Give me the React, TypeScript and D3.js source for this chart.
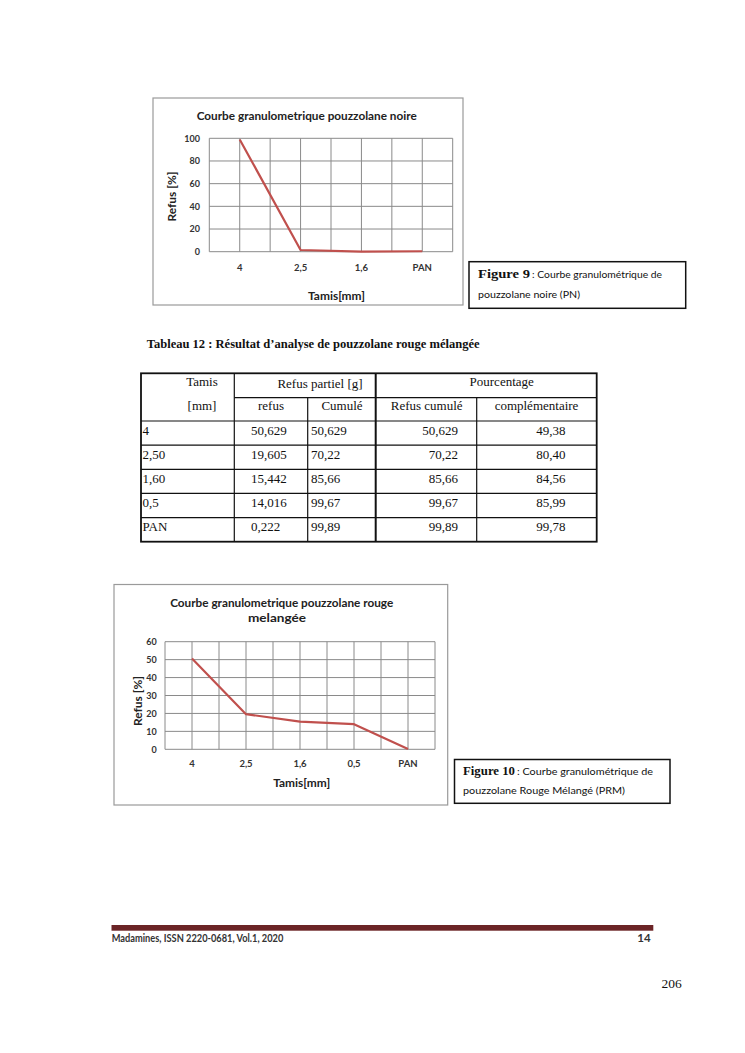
import React from "react";
import * as d3 from "d3";

// ---------- DATA ----------
const noireCategories = ["4", "2,5", "1,6", "PAN"];
const noireValues = [99, 1.5, 0.1, 0.4];
const noireYTicks = [0, 20, 40, 60, 80, 100];

const rougeCategories = ["4", "2,5", "1,6", "0,5", "PAN"];
const rougeValues = [50.629, 19.605, 15.442, 14.016, 0.222];
const rougeYTicks = [0, 10, 20, 30, 40, 50, 60];

const tableTamis = ["4", "2,50", "1,60", "0,5", "PAN"];
const tableRefus = ["50,629", "19,605", "15,442", "14,016", "0,222"];
const tableCumule = ["50,629", "70,22", "85,66", "99,67", "99,89"];
const tableRefusCumule = ["50,629", "70,22", "85,66", "99,67", "99,89"];
const tableComplementaire = ["49,38", "80,40", "84,56", "85,99", "99,78"];

const SANS = "Lato, 'Open Sans', sans-serif";
const SERIF = "'Liberation Serif', 'DejaVu Serif', serif";
const LINE = "#c0504d";
const GRID = "#8a8a8a";

type ChartProps = {
  frame: [number, number, number, number];
  plot: [number, number, number, number];
  cats: string[];
  vals: number[];
  ticks: number[];
  yMax: number;
  titleLines: { text: string; x: number; y: number; len: number }[];
  yLabelRight: number;
  xLabelY: number;
  xTitle: { x: number; y: number };
  yTitle: { x: number; y: number };
};

function LineChart(p: ChartProps) {
  const [fx0, fy0, fx1, fy1] = p.frame;
  const [px0, py0, px1, py1] = p.plot;
  const x = d3.scaleBand<string>().domain(p.cats).range([px0, px1]).padding(0);
  const y = d3.scaleLinear().domain([0, p.yMax]).range([py1, py0]);
  const bw = x.bandwidth();
  const vLines: number[] = [];
  p.cats.forEach((c) => {
    vLines.push(x(c)!);
    vLines.push(x(c)! + bw / 2);
  });
  vLines.push(px1);
  const line = d3
    .line<number>()
    .x((_, i) => x(p.cats[i])! + bw / 2)
    .y((d) => y(d));
  return (
    <g>
      <rect x={fx0} y={fy0} width={fx1 - fx0} height={fy1 - fy0} fill="#fff" stroke="#9a9a9a" strokeWidth={1.2} />
      {p.titleLines.map((t, i) => (
        <text key={i} x={t.x} y={t.y} textAnchor="middle" fontFamily={SANS} fontWeight={700} fontSize={11}
          fill="#222" textLength={t.len} lengthAdjust="spacingAndGlyphs">{t.text}</text>
      ))}
      {p.ticks.map((t) => (
        <line key={"h" + t} x1={px0} x2={px1} y1={y(t)} y2={y(t)} stroke={GRID} strokeWidth={1} />
      ))}
      {vLines.map((v, i) => (
        <line key={"v" + i} x1={v} x2={v} y1={py0} y2={py1} stroke={GRID} strokeWidth={1} />
      ))}
      {p.ticks.map((t) => (
        <text key={"yt" + t} x={p.yLabelRight} y={y(t) + 3.3} textAnchor="end" fontFamily={SANS} fontWeight={700}
          fontSize={9} fill="#333">{t}</text>
      ))}
      {p.cats.map((c) => (
        <text key={"xt" + c} x={x(c)! + bw / 2} y={p.xLabelY} textAnchor="middle" fontFamily={SANS} fontWeight={700}
          fontSize={9.5} fill="#333">{c}</text>
      ))}
      <path d={line(p.vals)!} fill="none" stroke={LINE} strokeWidth={2.2} strokeLinejoin="round" />
      <text x={p.xTitle.x} y={p.xTitle.y} textAnchor="middle" fontFamily={SANS} fontWeight={700} fontSize={11}
        fill="#222" textLength={57} lengthAdjust="spacingAndGlyphs">Tamis[mm]</text>
      <text transform={`translate(${p.yTitle.x},${p.yTitle.y}) rotate(-90)`} textAnchor="middle" fontFamily={SANS}
        fontWeight={700} fontSize={11} fill="#222" textLength={50} lengthAdjust="spacingAndGlyphs">Refus [%]</text>
    </g>
  );
}

function Caption({ box, num, numLen, rest, restLen, line2, line2Len, tx, b1, b2 }: {
  box: [number, number, number, number]; num: string; numLen: number; rest: string; restLen: number;
  line2: string; line2Len: number; tx: number; b1: number; b2: number;
}) {
  return (
    <g>
      <rect x={box[0]} y={box[1]} width={box[2] - box[0]} height={box[3] - box[1]} fill="#fff" stroke="#111" strokeWidth={1.5} />
      <text x={tx} y={b1} fontFamily={SERIF} fontWeight={700} fontSize={13} fill="#111" textLength={numLen}
        lengthAdjust="spacingAndGlyphs">{num}</text>
      <text x={tx + numLen + 2} y={b1} fontFamily={SANS} fontSize={10} fill="#111" textLength={restLen}
        lengthAdjust="spacingAndGlyphs">{rest}</text>
      <text x={tx} y={b2} fontFamily={SANS} fontSize={10} fill="#111" textLength={line2Len}
        lengthAdjust="spacingAndGlyphs">{line2}</text>
    </g>
  );
}

function Table() {
  const cols = [141, 234.3, 307.7, 375.7, 476.7, 596.7];
  const top = 373.3;
  const sub = 397.7;
  const headBottom = 421;
  const rowH = (541.7 - headBottom) / tableTamis.length;
  const rows = tableTamis.map((_, i) => headBottom + i * rowH);
  const bottom = headBottom + tableTamis.length * rowH;
  const fs = 13;
  const txt = (s: string, xx: number, yy: number, anchor: "start" | "middle" | "end", key: string) => (
    <text key={key} x={xx} y={yy} textAnchor={anchor} fontFamily={SERIF} fontSize={fs} fill="#111">{s}</text>
  );
  return (
    <g>
      <text x={146.7} y={348.3} fontFamily={SERIF} fontWeight={700} fontSize={13} fill="#111" textLength={333}
        lengthAdjust="spacingAndGlyphs">Tableau 12 : Résultat d’analyse de pouzzolane rouge mélangée</text>
      <line x1={cols[1]} x2={cols[5]} y1={sub} y2={sub} stroke="#111" strokeWidth={1.2} />
      {[headBottom, ...rows.slice(1)].map((r, i) => (
        <line key={"r" + i} x1={cols[0]} x2={cols[5]} y1={r} y2={r} stroke="#111" strokeWidth={1.2} />
      ))}
      {cols.slice(1, 5).map((c, i) => (
        <line key={"c" + i} x1={c} x2={c} y1={i === 1 || i === 3 ? sub : top} y2={bottom} stroke="#111"
          strokeWidth={i === 2 ? 2 : 1.2} />
      ))}
      <rect x={cols[0]} y={top} width={cols[5] - cols[0]} height={bottom - top} fill="none" stroke="#111" strokeWidth={1.8} />
      {txt("Tamis", 202, 385.7, "middle", "h1")}
      {txt("[mm]", 202, 410, "middle", "h2")}
      {txt("Refus partiel [g]", 320, 387.5, "middle", "h3")}
      {txt("Pourcentage", 501.7, 385.5, "middle", "h4")}
      {txt("refus", 271, 410, "middle", "h5")}
      {txt("Cumulé", 342, 410, "middle", "h6")}
      {txt("Refus cumulé", 426.7, 410, "middle", "h7")}
      {txt("complémentaire", 536.5, 410, "middle", "h8")}
      {tableTamis.map((t, i) => {
        const by = rows[i] + rowH * 0.56;
        return (
          <g key={"row" + i}>
            {txt(t, 142.5, by, "start", "a" + i)}
            {txt(tableRefus[i], 251, by, "start", "b" + i)}
            {txt(tableCumule[i], 311, by, "start", "c" + i)}
            {txt(tableRefusCumule[i], 458, by, "end", "d" + i)}
            {txt(tableComplementaire[i], 565.5, by, "end", "e" + i)}
          </g>
        );
      })}
    </g>
  );
}

export default function App() {
  return (
    <svg width={745} height={1053} viewBox="0 0 745 1053"
      style={{ position: "absolute", left: 0, top: 0, display: "block", background: "#fff" }}>
      <rect x={0} y={0} width={745} height={1053} fill="#fff" />
      <LineChart
        frame={[153, 98, 463, 305]}
        plot={[209.3, 138.3, 452.7, 251.7]}
        cats={noireCategories}
        vals={noireValues}
        ticks={noireYTicks}
        yMax={100}
        titleLines={[{ text: "Courbe granulometrique pouzzolane noire", x: 306.7, y: 120, len: 220 }]}
        yLabelRight={200}
        xLabelY={271}
        xTitle={{ x: 336.5, y: 300 }}
        yTitle={{ x: 175.5, y: 196.5 }}
      />
      <Caption box={[469, 261.7, 685.7, 308.3]} num="Figure 9" numLen={52} rest=": Courbe granulométrique de"
        restLen={130} line2="pouzzolane noire (PN)" line2Len={102} tx={478} b1={278} b2={298} />
      <Table />
      <LineChart
        frame={[114, 584.5, 447.7, 805]}
        plot={[165, 641.7, 435, 749.3]}
        cats={rougeCategories}
        vals={rougeValues}
        ticks={rougeYTicks}
        yMax={60}
        titleLines={[
          { text: "Courbe granulometrique pouzzolane rouge", x: 281.7, y: 606.7, len: 223 },
          { text: "melangée", x: 277, y: 622.3, len: 58 },
        ]}
        yLabelRight={156.7}
        xLabelY={767.3}
        xTitle={{ x: 301.7, y: 786.7 }}
        yTitle={{ x: 141.5, y: 701 }}
      />
      <Caption box={[454.5, 759.5, 670, 803.3]} num="Figure 10" numLen={52} rest=": Courbe granulométrique de"
        restLen={136} line2="pouzzolane Rouge Mélangé (PRM)" line2Len={162} tx={463} b1={775} b2={794} />
      {/* footer */}
      <rect x={111.5} y={925} width={653.3 - 111.5} height={5.7} fill="#6b2426" />
      <text x={111.7} y={941.7} fontFamily={SANS} fontWeight={700} fontSize={11.5} fill="#333" textLength={171.6}
        lengthAdjust="spacingAndGlyphs">Madamines, ISSN 2220-0681, Vol.1, 2020</text>
      <text x={650.7} y={942} textAnchor="end" fontFamily={SANS} fontWeight={700} fontSize={11.5} fill="#333">14</text>
      <text x={681.7} y={988} textAnchor="end" fontFamily={SERIF} fontSize={13.5} fill="#111">206</text>
    </svg>
  );
}
